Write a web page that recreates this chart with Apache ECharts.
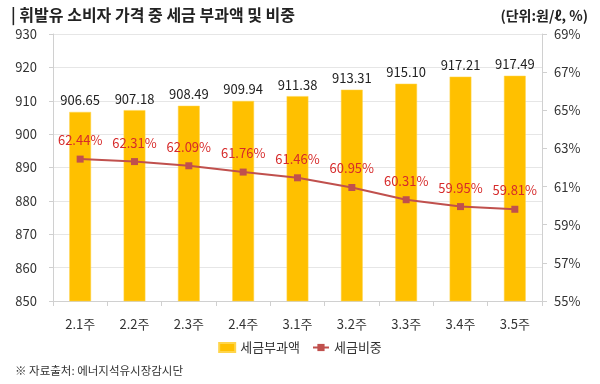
<!DOCTYPE html>
<html><head><meta charset="utf-8">
<script src="https://cdn.jsdelivr.net/npm/echarts@6/dist/echarts.min.js"></script>
<style>html,body{margin:0;padding:0;background:#fff}#c{width:600px;height:384px}</style>
</head><body><div id="c"></div>
<script>
const categories = ['2.1주','2.2주','2.3주','2.4주','3.1주','3.2주','3.3주','3.4주','3.5주'];
const taxAmount = [906.65, 907.18, 908.49, 909.94, 911.38, 913.31, 915.10, 917.21, 917.49];
const taxShare = [62.44, 62.31, 62.09, 61.76, 61.46, 60.95, 60.31, 59.95, 59.81];
const leftTicks = {min: 850, max: 930, interval: 10};
const rightTicks = {min: 55, max: 69, interval: 2};

const FONT = '"Noto Sans CJK KR", "Noto Sans", sans-serif';
const chart = echarts.init(document.getElementById('c'), null, {renderer: 'canvas'});
chart.setOption({
  animation: false,
  textStyle: {fontFamily: FONT},
  title: [
    {text: '| 휘발유 소비자 가격 중 세금 부과액 및 비중', left: 6, top: 2,
     textStyle: {fontFamily: FONT, fontSize: 16, fontWeight: 'bold', color: '#222'}},
    {text: '(단위:원/ℓ, %)', right: 7, top: 4,
     textStyle: {fontFamily: FONT, fontSize: 14, fontWeight: 'bold', color: '#222'}},
    {text: '※ 자료출처: 에너지석유시장감시단', left: 10, top: 360,
     textStyle: {fontFamily: FONT, fontSize: 11.5, fontWeight: 'normal', color: '#333'}}
  ],
  legend: {
    bottom: 25, left: 'center', itemGap: 12, itemWidth: 16, itemHeight: 9,
    textStyle: {fontFamily: FONT, fontSize: 13, color: '#333'},
    data: [
      {name: '세금부과액', icon: 'rect', itemStyle: {color: '#ffc000'}},
      {name: '세금비중'}
    ]
  },
  grid: {left: 53, right: 58, top: 34, bottom: 83},
  xAxis: {
    type: 'category', data: categories,
    axisLine: {lineStyle: {color: '#d0d0d0'}},
    axisTick: {show: true, length: 5, lineStyle: {color: '#d0d0d0'}},
    axisLabel: {color: '#333', fontSize: 13, margin: 17, fontFamily: FONT}
  },
  yAxis: [
    {type: 'value', min: leftTicks.min, max: leftTicks.max, interval: leftTicks.interval,
     axisLine: {show: true, lineStyle: {color: '#d0d0d0'}},
     axisTick: {show: true, length: 4, lineStyle: {color: '#d0d0d0'}},
     axisLabel: {color: '#333', fontSize: 13, margin: 16, fontFamily: FONT},
     splitLine: {lineStyle: {color: '#e6e6e6'}}},
    {type: 'value', min: rightTicks.min, max: rightTicks.max, interval: rightTicks.interval,
     axisLine: {show: true, lineStyle: {color: '#d0d0d0'}},
     axisTick: {show: true, length: 5, lineStyle: {color: '#d0d0d0'}},
     axisLabel: {color: '#333', fontSize: 13, margin: 12, fontFamily: FONT, formatter: '{value}%'},
     splitLine: {show: false}}
  ],
  series: [
    {name: '세금부과액', type: 'bar', data: taxAmount, barWidth: '40%', yAxisIndex: 0,
     itemStyle: {color: '#ffc000', borderColor: '#ffd54a', borderWidth: 0.5},
     label: {show: true, position: 'top', distance: 5, color: '#222', fontSize: 13, fontFamily: FONT,
             formatter: p => p.value.toFixed(2)}},
    {name: '세금비중', type: 'line', data: taxShare, yAxisIndex: 1,
     symbol: 'rect', symbolSize: 7,
     lineStyle: {color: '#c0504d', width: 2},
     itemStyle: {color: '#c0504d'},
     label: {show: true, position: 'top', distance: 9, color: '#d62a2a', fontSize: 13, fontFamily: FONT,
             formatter: p => p.value.toFixed(2) + '%'}}
  ]
});
</script></body></html>
